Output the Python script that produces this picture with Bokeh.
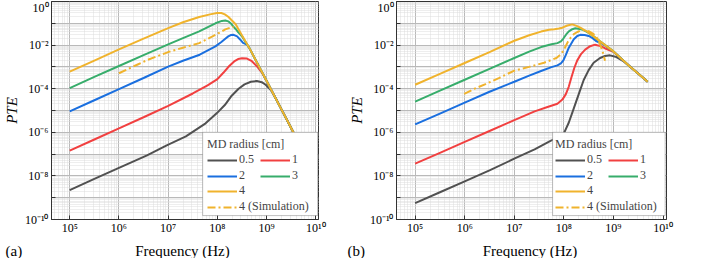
import numpy as np
from bokeh.plotting import figure
from bokeh.models import (Range1d, FixedTicker, Legend, LegendItem, BoxAnnotation, Label)
from bokeh.layouts import row, column
from bokeh.embed import file_html
from bokeh.resources import INLINE

# ---------------- data (log10 frequency [Hz], log10 PTE) ----------------
# panel (a)
a_black_lf = [5.0, 5.5, 6.0, 6.57, 6.97, 7.36, 7.76, 7.99, 8.15, 8.29, 8.43, 8.55, 8.68, 8.8, 8.9, 8.98, 9.09, 9.2, 9.3, 9.45, 9.57, 9.7]
a_black_lp = [-8.65, -8.14, -7.63, -7.06, -6.6, -6.19, -5.59, -5.12, -4.75, -4.32, -4.0, -3.8, -3.68, -3.65, -3.7, -3.82, -4.07, -4.5, -4.95, -5.6, -6.12, -6.68]
a_red_lf = [5.0, 5.5, 6.0, 6.5, 7.0, 7.5, 7.8, 8.0, 8.12, 8.24, 8.34, 8.42, 8.5, 8.6, 8.7, 8.8, 8.9, 9.0, 9.15, 9.3, 9.45, 9.57, 9.7]
a_red_lp = [-6.84, -6.33, -5.82, -5.31, -4.79, -4.22, -3.85, -3.56, -3.27, -2.96, -2.75, -2.64, -2.6, -2.62, -2.74, -2.97, -3.25, -3.65, -4.3, -4.95, -5.6, -6.12, -6.68]
a_blue_lf = [5.0, 5.5, 6.0, 6.5, 7.0, 7.3, 7.64, 7.96, 8.08, 8.16, 8.22, 8.27, 8.33, 8.4, 8.46, 8.52, 8.6, 8.65, 8.8, 9.0, 9.15, 9.3, 9.45, 9.57, 9.7]
a_blue_lp = [-5.04, -4.53, -4.02, -3.51, -2.99, -2.72, -2.44, -2.06, -1.86, -1.71, -1.6, -1.54, -1.53, -1.6, -1.74, -1.9, -1.98, -2.14, -2.79, -3.65, -4.3, -4.95, -5.6, -6.12, -6.68]
a_green_lf = [5.0, 5.5, 6.0, 6.5, 7.0, 7.3, 7.63, 7.96, 8.09, 8.16, 8.22, 8.28, 8.32, 8.37, 8.42, 8.5, 8.65, 8.8, 9.0, 9.15, 9.3, 9.45, 9.57, 9.7]
a_green_lp = [-3.97, -3.46, -2.96, -2.46, -1.97, -1.68, -1.37, -1.0, -0.89, -0.87, -0.91, -1.02, -1.14, -1.26, -1.4, -1.6, -2.14, -2.79, -3.65, -4.3, -4.95, -5.6, -6.12, -6.68]
a_orange_lf = [5.0, 5.5, 6.0, 6.5, 7.0, 7.3, 7.63, 7.85, 7.99, 8.08, 8.15, 8.22, 8.29, 8.37, 8.5, 8.65, 8.8, 9.0, 9.15, 9.3, 9.45, 9.57, 9.7]
a_orange_lp = [-3.22, -2.71, -2.2, -1.7, -1.22, -0.95, -0.71, -0.59, -0.53, -0.53, -0.59, -0.7, -0.86, -1.04, -1.56, -2.14, -2.79, -3.65, -4.3, -4.95, -5.6, -6.12, -6.68]
a_sim_lf = [6.0, 6.37, 6.59, 7.0, 7.3, 7.63, 7.9, 8.05, 8.16, 8.25, 8.33]
a_sim_lp = [-3.29, -2.9, -2.67, -2.32, -2.12, -1.91, -1.6, -1.42, -1.28, -1.21, -1.16]

# panel (b)
b_black_lf = [5.0, 5.5, 6.0, 6.5, 7.01, 7.41, 7.74, 7.9, 8.0, 8.1, 8.2, 8.3, 8.4, 8.5, 8.6, 8.73, 8.83, 8.93, 9.06, 9.19, 9.32, 9.5, 9.69]
b_black_lp = [-9.25, -8.75, -8.25, -7.75, -7.2, -6.78, -6.38, -6.23, -6.05, -5.55, -4.9, -4.25, -3.6, -3.15, -2.81, -2.59, -2.5, -2.47, -2.55, -2.72, -2.96, -3.3, -3.68]
b_red_lf = [5.0, 5.5, 6.0, 6.5, 7.0, 7.41, 7.67, 7.87, 7.97, 8.04, 8.1, 8.15, 8.21, 8.27, 8.35, 8.43, 8.53, 8.63, 8.76, 8.86, 9.0, 9.32, 9.69]
b_red_lp = [-7.44, -6.94, -6.44, -5.94, -5.44, -5.04, -4.84, -4.69, -4.5, -4.25, -3.9, -3.5, -3.05, -2.7, -2.4, -2.21, -2.05, -1.98, -2.06, -2.18, -2.31, -2.96, -3.68]
b_blue_lf = [5.0, 5.5, 6.0, 6.5, 7.0, 7.3, 7.54, 7.75, 7.87, 7.94, 7.99, 8.04, 8.1, 8.2, 8.27, 8.33, 8.42, 8.5, 8.58, 8.66, 8.8, 9.0, 9.32, 9.69]
b_blue_lp = [-5.64, -5.14, -4.64, -4.14, -3.68, -3.4, -3.19, -3.01, -2.93, -2.84, -2.7, -2.45, -2.12, -1.73, -1.58, -1.53, -1.54, -1.58, -1.68, -1.83, -1.97, -2.29, -2.96, -3.68]
b_green_lf = [5.0, 5.5, 6.0, 6.5, 7.0, 7.3, 7.54, 7.75, 7.87, 7.94, 7.99, 8.05, 8.1, 8.17, 8.23, 8.32, 8.4, 8.5, 8.6, 8.73, 9.0, 9.32, 9.69]
b_green_lp = [-4.59, -4.09, -3.59, -3.09, -2.59, -2.3, -2.09, -1.96, -1.91, -1.83, -1.7, -1.5, -1.37, -1.27, -1.23, -1.26, -1.31, -1.44, -1.6, -1.83, -2.29, -2.96, -3.68]
b_orange_lf = [5.0, 5.5, 6.0, 6.5, 7.0, 7.3, 7.54, 7.7, 7.81, 7.9, 7.97, 8.07, 8.17, 8.27, 8.37, 8.47, 8.6, 8.73, 9.0, 9.32, 9.69]
b_orange_lp = [-3.82, -3.32, -2.82, -2.32, -1.8, -1.55, -1.38, -1.3, -1.27, -1.24, -1.2, -1.1, -1.05, -1.13, -1.25, -1.38, -1.6, -1.83, -2.29, -2.96, -3.68]
b_sim_lf = [5.99, 6.2, 6.42, 6.7, 7.0, 7.3, 7.6, 7.85, 7.95, 8.02, 8.08, 8.14, 8.2, 8.27, 8.34, 8.4, 8.5, 8.6, 8.67, 8.72, 8.76, 8.8, 8.83]
b_sim_lp = [-4.24, -4.0, -3.79, -3.5, -3.17, -3.0, -2.81, -2.59, -2.4, -2.12, -1.85, -1.65, -1.5, -1.4, -1.33, -1.31, -1.36, -1.5, -1.68, -1.9, -2.15, -2.45, -2.72]

series_labels = ["0.5", "1", "2", "3", "4", "4 (Simulation)"]
legend_title = "MD radius [cm]"
x_title = "Frequency (Hz)"
y_title = "PTE"
panel_tags = ["(a)", "(b)"]
x_tick_exps = [5, 6, 7, 8, 9, 10]
y_tick_exps = [0, -1, -2, -3, -4, -5, -6, -7, -8, -9, -10]

COLORS = ["#515151", "#F14040", "#1A6FDF", "#37AD6B", "#F0B32D", "#F0B32D"]
FONT = "Liberation Serif"
SUP = str.maketrans("0123456789-", "⁰¹²³⁴⁵⁶⁷⁸⁹⁻")


def sup_label(e):
    return "10" + str(e).translate(SUP)


def make_panel(curves, xr, min_left, min_right, leg_x, box_x):
    p = figure(width=345, height=240, x_axis_type="log", y_axis_type="log",
               x_range=Range1d(*xr), y_range=Range1d(1e-10, 1.0),
               output_backend="svg", toolbar_location=None, title=None,
               min_border_left=min_left, min_border_right=min_right,
               min_border_top=1, min_border_bottom=21)
    p.background_fill_color = "white"
    p.border_fill_color = "white"
    p.outline_line_color = "#333333"
    p.outline_line_width = 1

    xt = [10.0 ** e for e in x_tick_exps]
    xminor = [k * 10.0 ** d for d in range(4, 11) for k in range(2, 10)]
    yt = [10.0 ** e for e in y_tick_exps]
    yminor = [k * 10.0 ** d for d in range(-10, 0) for k in range(2, 10)]
    xtick = FixedTicker(ticks=xt, minor_ticks=xminor)
    ytick = FixedTicker(ticks=yt, minor_ticks=yminor)
    p.xaxis.ticker = xtick
    p.yaxis.ticker = ytick
    p.xgrid.ticker = xtick
    p.ygrid.ticker = ytick
    p.xaxis.major_label_overrides = {v: sup_label(e) for v, e in zip(xt, x_tick_exps)}
    p.yaxis.major_label_overrides = {v: (sup_label(e) if e % 2 == 0 else "") for v, e in zip(yt, y_tick_exps)}

    for ax in (p.xaxis[0], p.yaxis[0]):
        ax.axis_line_color = "#333333"
        ax.major_tick_in = 4
        ax.major_tick_out = 0
        ax.minor_tick_in = 0
        ax.minor_tick_out = 0
        ax.major_tick_line_color = "#333333"
        ax.minor_tick_line_color = None
        ax.major_label_text_font = FONT
        ax.major_label_text_font_size = "12px"
        ax.major_label_text_color = "black"
        ax.axis_label_text_font = FONT
        ax.axis_label_text_font_size = "15px"
        ax.axis_label_text_color = "black"
    p.xaxis.major_label_standoff = 1
    p.yaxis.axis_label = y_title
    p.yaxis.axis_label_text_font_style = "italic"
    p.yaxis.major_label_standoff = 3
    p.yaxis.axis_label_standoff = 2

    for g in (p.xgrid[0], p.ygrid[0]):
        g.grid_line_color = "#b9b9b9"
        g.grid_line_width = 1
        g.minor_grid_line_color = "#dcdcdc"
        g.minor_grid_line_dash = "1 1"

    rs = []
    for i, (lf, lp) in enumerate(curves):
        dash = "8 3 2 3" if i == 5 else "solid"
        r = p.line(10.0 ** np.array(lf), 10.0 ** np.array(lp), line_color=COLORS[i],
                   line_width=2, line_dash=dash)
        rs.append(r)

    box = BoxAnnotation(left=10.0 ** box_x[0], right=10.0 ** box_x[1],
                        top=10.0 ** -6.0, bottom=10.0 ** -9.82,
                        fill_color="white", fill_alpha=1.0,
                        line_color="#333333", line_width=1, level="annotation")
    p.add_layout(box)

    common = dict(label_text_font=FONT, label_text_font_size="12px",
                  glyph_width=30, glyph_height=12, label_height=12,
                  label_standoff=2, padding=0, margin=0,
                  background_fill_alpha=0, border_line_color=None,
                  label_text_line_height=1.0)
    leg_a = Legend(items=[LegendItem(label=series_labels[i], renderers=[rs[i]]) for i in range(4)],
                   orientation="horizontal", ncols=2, title=legend_title,
                   title_text_font=FONT, title_text_font_size="12px",
                   title_text_font_style="normal", title_standoff=0, spacing=1,
                   location=(leg_x, 36), **common)
    leg_b = Legend(items=[LegendItem(label=series_labels[i], renderers=[rs[i]]) for i in (4, 5)],
                   orientation="vertical", spacing=1, location=(leg_x, 5), **common)
    p.add_layout(leg_a, "center")
    p.add_layout(leg_b, "center")
    return p


curves_a = [(a_black_lf, a_black_lp), (a_red_lf, a_red_lp), (a_blue_lf, a_blue_lp),
            (a_green_lf, a_green_lp), (a_orange_lf, a_orange_lp), (a_sim_lf, a_sim_lp)]
curves_b = [(b_black_lf, b_black_lp), (b_red_lf, b_red_lp), (b_blue_lf, b_blue_lp),
            (b_green_lf, b_green_lp), (b_orange_lf, b_orange_lp), (b_sim_lf, b_sim_lp)]

p1 = make_panel(curves_a, (10 ** 4.63, 10 ** 10.053), 44, 27, 156, (7.70, 10.036))
p2 = make_panel(curves_b, (10 ** 4.624, 10 ** 10.07), 46, 24, 159, (7.772, 10.043))

# strip under both panels carrying the x-axis titles and the panel tags
strip = figure(width=690, height=18, x_range=Range1d(0, 690), y_range=Range1d(0, 18),
               output_backend="svg", toolbar_location=None, title=None,
               x_axis_location=None, y_axis_location=None,
               min_border=0, min_border_left=0, min_border_right=0,
               min_border_top=0, min_border_bottom=0)
strip.outline_line_color = None
strip.grid.visible = False
strip.background_fill_color = "white"
strip.border_fill_color = "white"
for sx, txt, align in [(5, panel_tags[0], "left"), (182, x_title, "center"),
                       (347, panel_tags[1], "left"), (529.5, x_title, "center")]:
    strip.add_layout(Label(x=sx, y=8, text=txt, text_font=FONT, text_font_size="15px",
                           text_color="black", text_baseline="alphabetic", text_align=align))

layout = column(row(p1, p2), strip)
open("out.html", "w").write(file_html(layout, INLINE))
